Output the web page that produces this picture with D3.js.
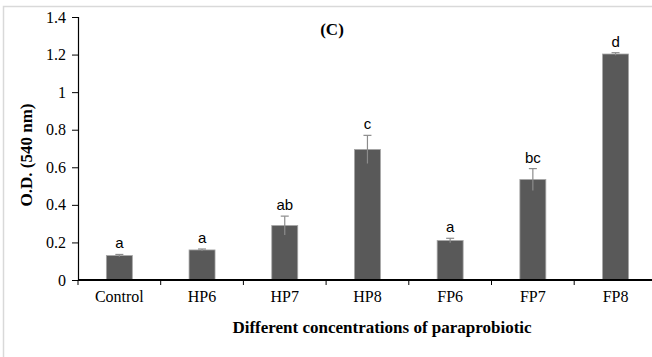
<!DOCTYPE html>
<html>
<head>
<meta charset="utf-8">
<script src="https://cdn.jsdelivr.net/npm/d3@7"></script>
<style>
  html, body { margin: 0; padding: 0; background: #fff; }
  svg { display: block; }
</style>
</head>
<body>
<svg id="chart" width="652" height="357"></svg>
<script>
// Optical density of each treatment group
const categories = ["Control", "HP6", "HP7", "HP8", "FP6", "FP7", "FP8"];
const odValues   = [0.13, 0.16, 0.29, 0.695, 0.21, 0.535, 1.203];
const odErrors   = [0.006, 0.005, 0.05, 0.075, 0.012, 0.058, 0.007];
const groupLetters = ["a", "a", "ab", "c", "a", "bc", "d"];
const yTicks = [0, 0.2, 0.4, 0.6, 0.8, 1, 1.2, 1.4];

(function () {
const svg = d3.select("#chart");
const serif = "'Liberation Serif', 'Times New Roman', serif";
const sans = "'Liberation Sans', Arial, sans-serif";

// Outer frame of the chart area
svg.append("rect")
  .attr("x", 3.5).attr("y", 6.5)
  .attr("width", 700).attr("height", 400)
  .attr("fill", "none")
  .attr("stroke", "#d9d9d9")
  .attr("stroke-width", 1.5);

const plotLeft = 78, plotTop = 17, plotBottom = 280, step = 82.7;
const x = d3.scaleBand()
  .domain(categories)
  .range([plotLeft, plotLeft + step * categories.length])
  .paddingInner(0.686)
  .paddingOuter(0.343);
const y = d3.scaleLinear().domain([0, 1.4]).range([plotBottom, plotTop]);

// Bars
svg.append("g").selectAll("rect")
  .data(categories)
  .join("rect")
  .attr("x", d => x(d))
  .attr("y", (d, i) => y(odValues[i]))
  .attr("width", x.bandwidth())
  .attr("height", (d, i) => plotBottom - y(odValues[i]))
  .attr("fill", "#595959")
  .attr("stroke", "#a6a6a6")
  .attr("stroke-width", 0.8);

// Error bars
const eb = svg.append("g").attr("stroke", "#8c8c8c").attr("stroke-width", 1.2);
categories.forEach((c, i) => {
  const cx = x(c) + x.bandwidth() / 2;
  const hi = y(odValues[i] + odErrors[i]);
  const lo = y(odValues[i] - odErrors[i]);
  eb.append("line").attr("x1", cx).attr("x2", cx).attr("y1", hi).attr("y2", lo);
  eb.append("line").attr("x1", cx - 4).attr("x2", cx + 4).attr("y1", hi).attr("y2", hi);
});

// Significance letters
svg.append("g").selectAll("text")
  .data(categories)
  .join("text")
  .attr("x", d => x(d) + x.bandwidth() / 2)
  .attr("y", (d, i) => y(odValues[i] + odErrors[i]) - 6)
  .attr("text-anchor", "middle")
  .attr("font-family", sans)
  .attr("font-size", 15)
  .attr("fill", "#000")
  .text((d, i) => groupLetters[i]);

// Y axis
const yAxis = svg.append("g")
  .attr("transform", `translate(${plotLeft},0)`)
  .call(d3.axisLeft(y).tickValues(yTicks).tickSize(6).tickPadding(6)
    .tickFormat(d => d3.format("")(d)));
yAxis.select(".domain").attr("stroke", "#000").attr("stroke-width", 1.2);
yAxis.selectAll(".tick line").attr("stroke", "#000");
yAxis.selectAll("text")
  .attr("font-family", serif).attr("font-size", 16).attr("fill", "#000");

// X axis: line, boundary ticks and category labels
const xg = svg.append("g");
const xEnd = plotLeft + step * categories.length;
xg.append("line")
  .attr("x1", plotLeft).attr("x2", xEnd)
  .attr("y1", plotBottom).attr("y2", plotBottom)
  .attr("stroke", "#000").attr("stroke-width", 2);
d3.range(categories.length + 1).forEach(k => {
  const tx = plotLeft + step * k;
  xg.append("line")
    .attr("x1", tx).attr("x2", tx)
    .attr("y1", plotBottom).attr("y2", plotBottom + 5)
    .attr("stroke", "#000").attr("stroke-width", 1);
});
xg.selectAll("text.cat")
  .data(categories)
  .join("text")
  .attr("class", "cat")
  .attr("x", d => x(d) + x.bandwidth() / 2)
  .attr("y", plotBottom + 22)
  .attr("text-anchor", "middle")
  .attr("font-family", serif)
  .attr("font-size", 16)
  .attr("fill", "#000")
  .text(d => d);

// Titles
svg.append("text")
  .attr("x", 332).attr("y", 35)
  .attr("text-anchor", "middle")
  .attr("font-family", serif).attr("font-weight", "bold").attr("font-size", 17)
  .text("(C)");

svg.append("text")
  .attr("x", 382).attr("y", 333)
  .attr("text-anchor", "middle")
  .attr("font-family", serif).attr("font-weight", "bold").attr("font-size", 17)
  .text("Different concentrations of paraprobiotic");

svg.append("text")
  .attr("transform", "translate(32,155) rotate(-90)")
  .attr("text-anchor", "middle")
  .attr("font-family", serif).attr("font-weight", "bold").attr("font-size", 17)
  .text("O.D. (540 nm)");
})();
</script>
</body>
</html>
